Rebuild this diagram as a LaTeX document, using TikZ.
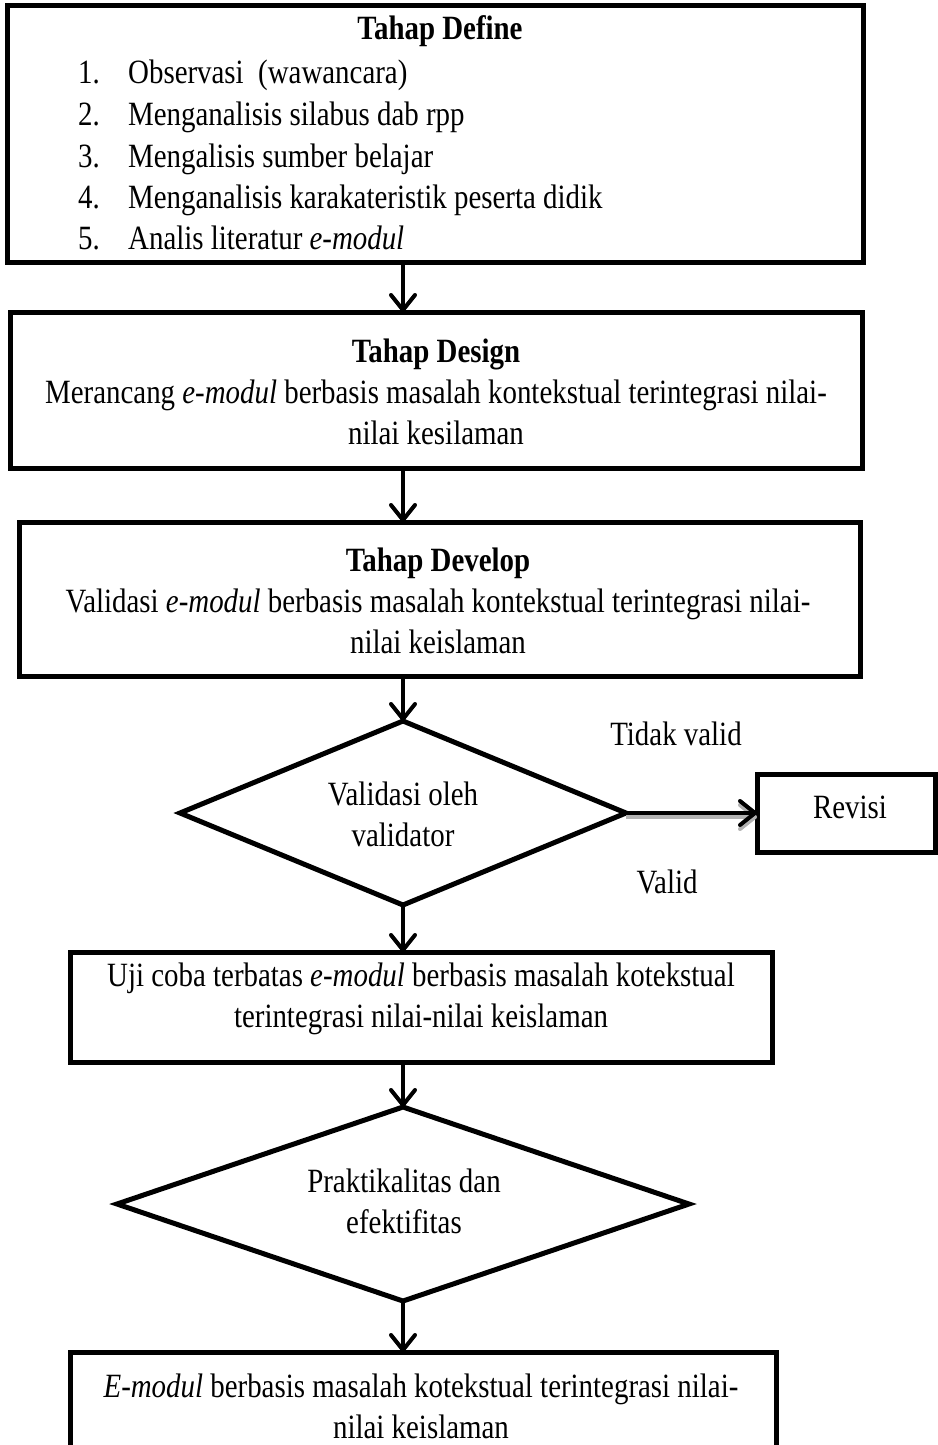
\documentclass[tikz,border=0pt]{standalone}
\usepackage{fontspec}
\setmainfont{Liberation Serif}[FakeStretch=0.85]
\usetikzlibrary{shapes.geometric,arrows.meta}
\begin{document}
\begin{tikzpicture}[x=1pt,y=-1pt,
  box/.style={draw, line width=5pt, inner sep=0pt, outer sep=0pt},
  dia/.style={diamond, draw, line width=5pt, inner sep=0pt, outer sep=0pt},
  txt/.style={font=\fontsize{34}{41}\selectfont, inner sep=0pt, align=center},
  conn/.style={line width=4pt, -{Straight Barb[length=15pt,width=24pt,round]}},
  shadowed/.style={preaction={draw=gray!60, line width=4pt, transform canvas={yshift=-4pt}}},
  ]
\useasboundingbox (0,0) rectangle (937,1445);
\coordinate (axis) at (403,0);

% boxes
\node[box, minimum width=856pt, minimum height=256pt] (b1) at (435,134) {};
\node[box, minimum width=852pt, minimum height=156pt] (b2) at (436,390) {};
\node[box, minimum width=841pt, minimum height=154pt] (b3) at (439.5,599) {};
\node[dia, minimum width=446pt, minimum height=184pt] (d1) at (403,813) {};
\node[box, minimum width=178pt, minimum height=78pt] (rev) at (846,813) {};
\node[box, minimum width=702pt, minimum height=110pt] (b4) at (421,1007) {};
\node[dia, minimum width=572pt, minimum height=194pt] (d2) at (403,1204) {};
\node[box, minimum width=706pt, minimum height=128pt] (b5) at (423,1416) {};

% texts box 1
\node[txt, font=\fontsize{34}{41}\selectfont\bfseries] (h1) at (440,31) {Tahap Define};
\node[txt, anchor=base west] (i1) at (78,83) {\makebox[50pt][l]{1.}Observasi\ \ (wawancara)};
\node[txt, anchor=base west] (i2) at (78,125) {\makebox[50pt][l]{2.}Menganalisis silabus dab rpp};
\node[txt, anchor=base west] (i3) at (78,167) {\makebox[50pt][l]{3.}Mengalisis sumber belajar};
\node[txt, anchor=base west] (i4) at (78,208) {\makebox[50pt][l]{4.}Menganalisis karakateristik peserta didik};
\node[txt, anchor=base west] (i5) at (78,249) {\makebox[50pt][l]{5.}Analis literatur \textit{e-modul}};

% box 2
\node[txt] (t2) at (436,392) {\textbf{Tahap Design}\\Merancang \textit{e-modul} berbasis masalah kontekstual terintegrasi nilai-\\nilai kesilaman};
% box 3
\node[txt] (t3) at (438,601) {\textbf{Tahap Develop}\\Validasi \textit{e-modul} berbasis masalah kontekstual terintegrasi nilai-\\nilai keislaman};
% diamond 1
\node[txt] (td1) at (403,814) {Validasi oleh\\validator};
\node[txt] (trev) at (850,807) {Revisi};
\node[txt] (ltv) at (676,734) {Tidak valid};
\node[txt] (lv) at (667,882) {Valid};
% box 4
\node[txt] (t4) at (421,999) {Uji coba terbatas \textit{e-modul} berbasis masalah kotekstual\\terintegrasi nilai-nilai keislaman};
% diamond 2
\node[txt] (td2) at (404,1201) {Praktikalitas dan\\efektifitas};
% box 5
\node[txt] (t5) at (421,1406) {\textit{E-modul} berbasis masalah kotekstual terintegrasi nilai-\\nilai keislaman};

% connectors
\draw[conn] (b1.south -| axis) -- (b2.north -| axis);
\draw[conn] (b2.south -| axis) -- (b3.north -| axis);
\draw[conn] (b3.south -| axis) -- (d1.north);
\draw[conn, shadowed] (d1.east) -- (rev.west);
\draw[conn] (d1.south) -- (b4.north -| axis);
\draw[conn] (b4.south -| axis) -- (d2.north);
\draw[conn] (d2.south) -- (b5.north -| axis);
\end{tikzpicture}
\end{document}
